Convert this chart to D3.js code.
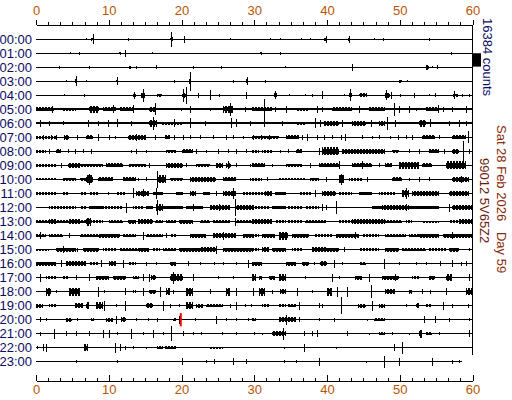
<!DOCTYPE html>
<html>
<head>
<meta charset="utf-8">
<script src="https://cdn.jsdelivr.net/npm/d3@7"></script>
<style>
  body { margin: 0; background: #fff; }
  svg { display: block; font-family: "Liberation Sans", Arial, sans-serif; }
</style>
</head>
<body>
<script>
// helicorder rows, one per hour
const hours = ["00:00", "01:00", "02:00", "03:00", "04:00", "05:00", "06:00", "07:00",
  "08:00", "09:00", "10:00", "11:00", "12:00", "13:00", "14:00", "15:00",
  "16:00", "17:00", "18:00", "19:00", "20:00", "21:00", "22:00", "23:00"];
const minuteTicks = [0, 10, 20, 30, 40, 50, 60];
const scaleCounts = 16384;
const dateLabel = "Sat 28 Feb 2026   Day 59";
const stationLabel = "99012 5V65Z2";

// background noise level per row (counts) and the minute where each row ends
const rowNoise = [0, 0, 0, 0, 400, 1100, 1100, 1000, 800, 1100, 1000, 1100, 1100, 1100, 1100, 1000,
  900, 800, 500, 500, 400, 400, 0, 0];
const rowEnd = [60, 60, 60, 60, 60, 60, 60, 60, 60, 60, 60, 60, 60, 60, 60, 60,
  60, 60, 60, 60, 60, 60, 60, 58.6];

// bursts per row: [start minute, end minute, amplitude counts]
const bursts = [
  // 00
  [[6.9,6.9,1200],[7.6,8.0,2000],[7.8,7.8,6100],[12.6,12.6,2000],[18.6,18.6,9000],[18.4,18.8,2400],[20.3,20.3,4100],[26.7,26.7,1200],
   [32.2,32.2,1200],[33.6,33.6,1200],[36.4,36.4,1200],[37.7,37.7,1200],[39.6,40.0,2000],[39.8,39.8,4100],[43.0,43.0,4100],[42.9,43.2,1600],[46.5,46.5,1200],[47.7,47.7,2000],[54.0,54.0,2000]],
  // 01
  [[4.7,4.7,1200],[5.9,5.9,2000],[11.4,11.7,2000],[12.2,12.2,4100],[16.0,16.0,1200],
   [30.8,31.0,1600],[33.6,33.6,1600],[57.1,57.1,1600]],
  // 02
  [[3.2,3.2,2000],[7.3,7.3,1600],[12.8,13.1,1600],[13.8,13.8,1600],[16.5,16.5,2400],[21.6,21.6,1600],[25.4,25.4,1600],
   [34.2,34.2,1200],[43.5,43.5,4100],[53.6,54.0,3300],[54.5,54.5,1200],[55.1,55.1,2400]],
  // 03
  [[4.1,4.1,1200],[5.5,5.5,6100],[5.4,5.7,2400],[6.9,6.9,1200],[11.0,11.3,2400],[11.1,11.1,4900],[19.0,19.0,1600],[21.1,21.1,11400],[21.0,21.3,3300],[27.1,27.1,1600],[28.9,29.2,2400],[29.0,29.0,4900],
   [31.5,31.5,1600],[49.9,50.3,1600],[51.0,51.0,1200]],
  // 04
  [[3.9,3.9,1200],[6.6,6.8,1600],[13.5,13.5,4100],[13.3,13.7,2000],[14.7,14.7,8100],[14.4,15.0,3300],[16.7,17.3,2000],[20.2,20.2,8100],[20.6,20.6,10200],[20.0,20.8,3300],[22.2,22.2,3300],[23.9,23.9,6100],[25.2,25.2,1600],[28.8,29.0,4100],
   [32.9,32.9,4900],[32.7,33.1,2400],[34.8,34.8,1200],[37.0,37.0,1200],[37.9,37.9,2000],[39.3,39.3,4900],[42.3,42.3,1200],[43.2,43.2,7300],[43.0,43.4,2400],[44.4,45.5,2400],[48.1,48.1,6100],[48.0,48.6,3300],[48.8,48.8,4100],[50.1,50.1,2000],[52.0,52.0,3300],[54.0,54.0,1200],[54.9,54.9,2400],[57.5,57.5,4900],[57.3,58.0,2000],[58.6,58.6,1600],[59.5,59.5,1600]],
  // 05
  [[0.0,2.5,2400],[2.2,2.2,4100],[3.7,5.5,1600],[7.3,8.7,4100],[8.0,8.0,4100],[9.2,11.0,2400],[10.6,10.6,4900],[11.5,13.3,2400],[13.3,13.3,4900],[15.6,16.5,3300],[16.3,16.3,7300],[19.9,19.9,1600],[21.1,21.1,4100],[23.9,23.9,1600],[25.7,27.1,4100],[26.6,26.6,8100],[28.7,28.7,3300],
   [29.7,32.5,2400],[31.3,31.3,12200],[32.9,32.9,3300],[34.3,34.3,4100],[35.7,37.5,2000],[38.6,38.6,4100],[39.3,39.3,3300],[40.7,43.5,2400],[44.4,44.4,4100],[45.8,48.0,2400],[49.2,49.2,8100],[49.9,49.9,4100],[51.3,51.3,4100],[52.2,52.2,2000],[53.6,55.4,2400],[55.2,55.2,4900],[55.9,55.9,3300],[57.2,57.2,3300],[59.1,59.1,4100]],
  // 06
  [[0.5,0.5,4100],[1.8,1.8,3300],[3.7,3.7,2400],[7.1,7.1,4100],[8.5,8.5,3300],[9.9,9.9,4100],[11.2,11.2,4900],[13.1,13.1,3300],[15.6,16.7,4100],[16.1,16.1,8100],[17.2,20.2,2000],[19.0,19.0,4900],[21.1,21.1,6100],[23.2,23.2,3300],[26.8,26.8,6100],[27.5,27.5,4900],[29.4,29.4,3300],
   [31.3,31.3,4900],[33.8,33.8,3300],[35.7,37.0,2000],[38.4,38.4,6100],[39.1,39.1,4100],[39.6,41.6,3300],[42.1,42.1,4100],[43.5,45.3,3300],[46.0,46.0,4100],[47.1,48.0,3300],[48.3,48.3,8100],[49.4,49.4,4100],[52.6,53.6,4100],[54.2,54.2,4900],[56.8,56.8,3300],[58.1,58.1,4100],[59.1,59.1,3300]],
  // 07
  [[0.0,2.8,1600],[0.9,0.9,3300],[2.1,2.1,3300],[2.8,2.8,3300],[3.9,4.6,3300],[5.7,5.7,3300],[6.9,7.8,2400],[8.5,8.5,4100],[10.1,10.1,3300],[10.8,10.8,2000],[12.6,15.1,3300],[13.8,13.8,4100],[16.3,16.3,3300],[17.7,18.4,2400],[19.0,19.0,3300],[20.2,20.2,3300],[21.1,21.1,2400],[22.5,22.5,2400],[24.3,24.3,2400],[26.1,26.1,3300],[27.1,27.1,2400],[28.4,28.4,1600],[29.8,29.8,3300],
   [29.7,33.4,2000],[30.9,30.9,3300],[32.0,32.0,3300],[34.3,36.1,2400],[36.6,36.6,3300],[37.3,37.3,4100],[38.6,38.6,3300],[39.6,39.6,3300],[40.7,40.7,2400],[41.9,41.9,3300],[42.5,42.5,4100],[44.8,44.8,2400],[46.2,46.2,2000],[47.1,47.1,2400],[48.7,48.7,2000],[49.7,49.7,3300],[50.8,50.8,2400],[51.7,51.7,3300],[53.1,54.9,2400],[55.4,55.4,2400],[57.2,59.1,2400],[59.4,59.4,7300]],
  // 08
  [[0.0,1.4,1600],[1.8,1.8,3300],[2.8,3.4,2400],[4.4,4.4,2400],[5.3,5.3,3300],[6.4,6.4,2400],[7.6,7.6,3300],[13.1,13.1,2000],[13.8,13.8,3300],[15.1,15.1,2000],[17.9,19.3,2000],[20.0,21.6,2400],[22.0,22.0,3300],[23.4,23.4,2000],[25.0,25.0,3300],[26.4,26.4,2400],[27.5,27.5,3300],[28.9,28.9,2400],[29.8,29.8,2000],
   [29.7,30.6,1600],[31.1,32.5,1600],[33.6,33.6,2000],[34.7,34.7,2400],[35.7,36.6,2400],[38.9,38.9,4100],[39.3,41.6,4900],[42.1,48.0,2800],[49.0,49.9,2000],[51.3,51.3,2400],[52.6,52.6,3300],[54.0,55.4,2400],[56.1,56.1,3300],[57.2,58.1,3300],[58.7,58.7,12200],[59.5,59.5,3300]],
  // 09
  [[0.0,2.8,1600],[3.4,3.4,3300],[4.4,6.0,3300],[6.0,9.2,2000],[9.6,11.9,2400],[12.8,15.1,2000],[15.6,15.6,3300],[17.9,20.2,3300],[20.6,20.6,2400],[22.0,23.9,2000],[24.8,25.7,3300],[26.4,26.4,4900],[26.1,26.8,3300],[27.5,27.5,2400],[29.4,29.4,2000],
   [29.7,31.5,2400],[32.5,32.5,2000],[34.3,36.6,2000],[37.7,37.7,3300],[38.9,41.6,2400],[41.6,41.6,4900],[43.5,46.2,2400],[44.8,44.8,4900],[47.1,47.1,2400],[48.0,49.0,2400],[49.9,52.6,4100],[53.1,54.5,2400],[56.3,59.1,4900],[58.6,58.6,4100]],
  // 10
  [[0.0,2.8,1200],[3.7,5.5,2000],[6.0,6.9,2000],[6.9,7.8,4900],[7.3,7.3,6500],[8.5,10.6,2400],[11.9,13.8,2400],[14.0,14.0,2000],[15.1,15.1,2400],[16.7,16.7,10600],[16.7,17.9,4900],[18.4,20.2,2000],[21.1,24.8,2800],[25.7,27.5,2400],[29.4,29.4,2000],
   [29.7,31.1,1600],[31.8,31.8,2400],[33.4,37.0,1200],[37.7,38.9,2000],[39.8,39.8,3300],[41.6,42.3,4900],[41.9,41.9,6500],[43.0,44.8,1600],[45.5,45.5,3300],[49.0,50.3,2400],[51.3,51.3,2000],[52.6,52.6,3300],[54.0,54.0,2400],[57.2,59.5,2800],[58.4,58.4,4100]],
  // 11
  [[0.0,2.8,2000],[3.7,4.6,1600],[6.0,6.9,2000],[7.3,8.7,2000],[9.9,9.9,2400],[11.0,12.4,2000],[13.3,13.3,6100],[13.8,15.6,2800],[14.7,14.7,4900],[16.1,17.4,2400],[16.5,16.5,7300],[19.3,20.2,2400],[21.1,22.0,3300],[22.9,23.9,2400],[24.8,24.8,3300],[25.7,27.5,3300],[27.1,27.1,6500],[28.4,29.8,2000],
   [29.7,31.5,2000],[31.5,32.5,3300],[32.9,34.3,2400],[36.1,38.0,2000],[38.4,38.4,4100],[39.3,41.2,3300],[41.6,43.5,2000],[44.4,46.2,2400],[47.1,49.4,2000],[50.8,50.8,7300],[50.3,51.3,4100],[51.7,55.4,3300],[56.8,59.5,2800]],
  // 12
  [[0.0,0.9,1200],[1.8,5.5,2000],[6.0,6.9,1600],[7.3,9.2,2400],[9.2,11.9,2000],[12.4,12.4,6100],[13.3,14.7,1600],[15.1,16.1,2400],[16.7,16.7,9000],[16.5,17.4,4100],[17.4,20.2,2400],[20.6,22.9,2400],[21.6,21.6,4100],[23.9,26.6,2800],[25.2,25.2,4100],[27.3,27.3,10200],[27.5,30.0,2800],
   [29.7,32.0,2000],[32.5,34.3,2400],[34.7,36.6,1600],[37.0,38.9,1600],[39.3,39.3,4100],[39.8,39.8,3300],[41.2,41.2,8100],[41.6,46.2,1200],[46.2,48.0,2400],[47.6,51.3,3300],[50.8,50.8,4100],[51.3,55.4,2400],[56.8,56.8,4900],[57.2,60.0,3300]],
  // 13
  [[0.0,1.8,2000],[1.8,2.8,3300],[2.8,6.9,2000],[4.6,6.0,3300],[6.9,7.6,4900],[7.6,9.2,1600],[10.1,11.9,2000],[12.6,13.8,2400],[14.0,16.1,2800],[16.3,17.4,2000],[17.9,19.3,2000],[19.7,21.6,2400],[22.5,23.9,2000],[24.3,26.6,2000],[27.3,27.3,4900],[27.5,29.8,2000],
   [29.7,32.5,2800],[32.9,34.3,1600],[34.7,36.6,1600],[37.0,39.8,2000],[41.6,43.5,1600],[43.5,48.0,2800],[48.0,50.3,2000],[50.8,51.7,1600],[53.1,55.4,1200],[56.8,58.1,1600],[58.1,60.0,3300]],
  // 14
  [[0.0,1.4,2000],[0.5,0.5,4100],[1.8,3.7,2000],[4.6,4.6,3300],[6.0,8.7,2000],[8.7,11.5,2400],[11.9,13.8,2000],[14.7,14.7,4900],[15.1,17.4,2000],[17.9,17.9,3300],[18.4,19.3,1600],[21.1,23.4,2400],[24.3,27.5,3300],[25.7,25.7,4900],[28.4,30.0,2400],
   [29.7,30.6,1600],[31.1,32.9,2400],[33.4,34.7,4900],[35.2,37.5,2400],[38.4,40.7,1600],[41.2,44.4,2400],[43.9,43.9,4100],[44.8,47.1,1600],[48.0,50.8,2000],[51.3,52.6,2000],[52.6,55.4,2400],[55.9,60.0,2400],[57.2,57.2,4100]],
  // 15
  [[0.0,1.8,1200],[2.8,5.5,2400],[3.7,3.7,4100],[5.7,5.7,2400],[6.4,8.7,2400],[9.2,11.0,1600],[11.5,14.2,2000],[14.2,15.6,2400],[16.1,17.0,1600],[17.4,19.3,2000],[19.7,22.5,2400],[22.5,24.8,2800],[24.8,24.8,4900],[25.7,27.5,2400],[27.5,29.8,2400],
   [29.7,30.6,1600],[31.1,32.0,3300],[32.5,34.3,2400],[35.2,36.6,1600],[38.0,39.8,3300],[39.8,41.6,2400],[42.3,42.3,3300],[44.4,47.1,1600],[48.0,49.9,2400],[50.3,53.6,2000],[54.0,56.3,1600],[56.8,58.1,2400],[59.5,59.5,1600]],
  // 16
  [[0.0,2.8,2400],[3.4,3.4,4100],[4.1,6.9,3300],[7.3,8.7,1600],[8.9,8.9,4100],[10.1,11.0,3300],[11.9,11.9,4900],[12.8,13.8,1600],[15.1,15.1,2400],[16.5,16.5,1600],[18.4,19.3,2400],[20.9,20.9,3300],[22.5,22.5,2000],[24.5,24.5,2000],[25.7,25.7,1600],[27.5,27.5,1600],[29.1,29.1,4900],
   [29.7,31.1,2400],[34.3,35.7,2400],[36.6,37.5,2400],[38.2,38.2,1600],[39.1,40.0,3300],[41.0,41.0,4900],[42.1,42.1,1600],[44.6,45.3,2000],[47.8,47.8,6100],[49.9,49.9,1600],[52.2,52.2,1600],[53.6,53.6,2000],[55.6,55.6,3300],[57.2,57.2,4100],[58.4,58.4,2400],[59.1,59.1,3300]],
  // 17
  [[0.5,0.5,4900],[1.4,2.8,1600],[3.7,4.6,1600],[5.5,5.5,3300],[7.3,7.3,4100],[8.3,10.1,2400],[10.6,12.4,2400],[13.3,14.2,2000],[14.7,14.7,4100],[15.6,15.6,4900],[15.8,16.5,3300],[18.4,20.2,4100],[18.8,18.8,7300],[21.6,21.6,4100],[25.0,25.0,2000],[27.1,27.1,2000],[29.8,29.8,4100],
   [29.7,30.2,4100],[30.6,31.1,2400],[32.0,32.9,2400],[33.4,34.3,4100],[37.0,37.0,1600],[40.7,40.7,4900],[41.6,41.6,2000],[43.9,44.8,2400],[45.8,45.8,4900],[47.6,49.9,2400],[49.4,49.4,4100],[51.7,52.6,1600],[54.0,54.9,2400],[56.3,57.2,4100],[59.5,59.5,4100]],
  // 18
  [[1.4,2.1,4900],[2.8,2.8,1600],[4.6,6.0,4900],[5.5,5.5,4900],[8.5,8.5,6100],[9.4,9.4,2000],[12.2,12.2,4100],[13.3,13.8,1600],[14.7,14.7,4900],[15.6,16.5,2400],[17.0,17.0,6100],[17.9,18.4,4100],[18.8,18.8,2400],[20.6,21.6,4900],[23.9,23.9,3300],[26.1,26.6,4900],[27.5,27.5,4900],[29.8,29.8,4900],
   [30.6,31.5,4900],[32.5,32.5,2400],[33.6,34.3,3300],[35.9,35.9,4900],[38.0,38.0,1600],[40.0,40.7,4900],[41.4,41.4,6100],[42.8,42.8,6100],[46.0,46.0,8100],[48.0,49.4,3300],[51.3,51.7,2400],[53.1,53.1,3300],[54.2,54.2,2400],[56.3,56.3,4100],[59.1,60.0,4100]],
  // 19
  [[0.0,0.9,2400],[1.8,2.8,1600],[5.3,6.4,3300],[6.9,7.3,4100],[8.3,9.2,4100],[9.4,9.4,6100],[11.0,11.0,2000],[12.2,12.2,6100],[15.1,16.1,3300],[17.4,17.4,6100],[18.4,18.4,2400],[19.7,19.7,1600],[20.6,21.6,4100],[22.0,22.9,2400],[23.4,25.7,2000],[26.6,26.6,2400],[27.5,27.5,4900],[28.7,28.7,2000],[29.6,29.6,2000],
   [31.1,32.0,1600],[33.4,34.3,1600],[34.7,35.7,2000],[36.1,36.1,4900],[38.9,38.9,3300],[39.3,39.3,2400],[41.9,41.9,10200],[44.2,45.3,2400],[46.2,46.2,6100],[47.1,48.0,2400],[50.8,50.8,1600],[52.2,52.6,3300],[53.6,54.5,1600],[55.9,55.9,4900],[57.2,57.2,2400],[59.4,59.4,2400]],
  // 20
  [[0.5,0.5,3300],[1.4,1.4,1600],[4.1,5.0,2400],[5.7,5.7,1600],[7.6,8.0,1600],[9.6,10.6,2400],[11.0,11.0,4900],[11.7,12.4,3300],[13.8,13.8,1600],[15.4,15.4,1600],[16.7,16.7,2400],[18.8,19.3,1600],[19.7,19.7,4900],[21.8,21.8,1600],[24.8,24.8,4900],[26.1,26.1,1600],[27.5,27.5,1600],[29.1,29.1,1600],[29.8,29.8,1600],
   [29.7,30.2,1600],[33.4,35.7,3300],[34.3,34.3,6100],[36.1,36.1,3300],[38.9,38.9,1600],[41.0,41.0,2400],[45.5,45.5,1200],[46.4,48.0,2000],[53.3,53.3,4100],[54.9,54.9,4100],[56.8,56.8,2400],[59.5,59.5,2000]],
  // 21
  [[0.5,0.5,2400],[2.5,2.5,6100],[4.1,4.1,3300],[5.5,5.5,3300],[7.3,7.3,3300],[9.2,9.2,4900],[10.1,10.1,4900],[11.2,11.2,1600],[13.1,13.1,6100],[14.7,14.7,1600],[16.1,16.1,4900],[17.4,17.4,1600],[18.6,18.6,9000],[20.2,20.2,3300],[21.6,21.6,1600],[22.7,22.7,1600],[25.5,25.5,1600],[27.5,27.5,1600],[30.0,30.0,1600],
   [31.1,31.1,1200],[32.5,34.3,3300],[34.0,34.0,7300],[36.8,36.8,3300],[38.0,38.0,3300],[38.6,38.6,4100],[42.8,42.8,3300],[45.8,45.8,1200],[47.1,48.0,1600],[49.0,49.0,1600],[51.3,51.3,1200],[52.6,53.1,4900],[53.6,54.5,2000],[55.4,55.4,2000],[59.5,59.5,4100]],
  // 22
  [[0.2,0.2,1600],[0.9,0.9,4100],[1.4,1.4,4900],[6.6,7.1,4100],[10.8,10.8,6100],[11.5,11.5,4100],[12.2,12.2,2400],[13.3,13.3,1600],[15.1,15.1,1200],[16.7,17.4,1600],[17.7,19.3,2000],[23.9,25.7,1200],
   [34.1,34.1,1200],[36.8,36.8,4900],[41.2,41.2,1200],[49.2,49.2,4100],[50.3,50.3,7300]],
  // 23
  [[5.5,5.5,1600],[11.2,11.2,2000],[20.0,20.0,4100],[23.4,23.4,1600],[24.5,24.5,3300],[27.1,27.1,4100],[28.8,28.8,3300],
   [34.1,34.1,1600],[35.7,35.7,1600],[38.9,38.9,4900],[45.3,45.3,1200],[47.8,47.8,7300],[49.9,49.9,4900],[54.5,54.5,4900],[57.2,57.2,2400],[58.1,58.1,1600]]
];

// highlighted marker: [row, minute, amplitude counts]
const redMarks = [[20, 19.9, 8100]];

var width = 512;
var height = 400;

var tickColor = "#b85400";
var labelColor = "#0a0a66";

var svg = d3.select("body").append("svg")
  .attr("width", width)
  .attr("height", height);

// vertical comb used to draw noisy stretches of trace
svg.append("defs")
  .append("pattern")
  .attr("id", "comb")
  .attr("patternUnits", "userSpaceOnUse")
  .attr("width", 3)
  .attr("height", 400)
  .append("rect")
  .attr("width", 2)
  .attr("height", 400)
  .attr("fill", "#000");

var x = d3.scaleLinear().domain([0, 60]).range([36, 472.5]);
var y = d3.scalePoint().domain(hours).range([39.2, 361.8]);
var amp = d3.scaleLinear().domain([0, scaleCounts]).range([0, 13.4]);

var minorTicks = d3.range(0, 60.001, 10 / 6);

function styleAxis(g) {
  g.attr("font-family", null).attr("font-size", null);
  g.selectAll("path, line").attr("stroke", "#000").attr("shape-rendering", "crispEdges");
  g.selectAll("text").attr("fill", tickColor).style("font-size", "13px");
}

// top axis
svg.append("g").attr("transform", "translate(0,24.5)")
  .call(d3.axisTop(x).tickValues(minorTicks).tickSize(2.5).tickSizeOuter(0).tickFormat(""))
  .call(styleAxis);
svg.append("g").attr("transform", "translate(0,24.5)")
  .call(d3.axisTop(x).tickValues(minuteTicks).tickSize(5).tickSizeOuter(0).tickPadding(4.5))
  .call(styleAxis);

// bottom axis, ticks point up
svg.append("g").attr("transform", "translate(0,380.5)")
  .call(d3.axisBottom(x).tickValues(minorTicks).tickSize(-3).tickSizeOuter(0).tickFormat(""))
  .call(styleAxis);
svg.append("g").attr("transform", "translate(0,380.5)")
  .call(d3.axisBottom(x).tickValues(minuteTicks).tickSize(-6).tickSizeOuter(0).tickPadding(4))
  .call(styleAxis);

// right frame line
svg.append("line")
  .attr("x1", x(60)).attr("x2", x(60))
  .attr("y1", 25).attr("y2", 355)
  .attr("stroke", "#000")
  .attr("shape-rendering", "crispEdges");

// hour labels
svg.append("g").selectAll("text")
  .data(hours)
  .enter()
  .append("text")
  .attr("x", 32)
  .attr("y", function(d) { return y(d) + 4.5; })
  .attr("text-anchor", "end")
  .attr("fill", labelColor)
  .style("font-size", "13px")
  .text(function(d) { return d; });

// traces
var rows = svg.append("g").selectAll("g")
  .data(hours)
  .enter()
  .append("g")
  .attr("transform", function(d) { return "translate(0," + y(d) + ")"; })
  .attr("shape-rendering", "crispEdges");

function noiseHalf(i) {
  return Math.max(0.7, amp(rowNoise[i]));
}

rows.append("rect")
  .attr("x", x(0))
  .attr("width", function(d, i) { return x(rowEnd[i]) - x(0); })
  .attr("y", function(d, i) { return -noiseHalf(i); })
  .attr("height", function(d, i) { return 2 * noiseHalf(i); })
  .attr("fill", "#000");

function rowBursts(d, i) {
  return bursts[i];
}

// noisy stretches: comb envelope with a solid core
var stretches = rows.selectAll("g.stretch")
  .data(function(d, i) { return rowBursts(d, i).filter(function(b) { return b[1] > b[0]; }); })
  .enter()
  .append("g")
  .attr("class", "stretch");

stretches.append("rect")
  .attr("x", function(d) { return x(d[0]); })
  .attr("width", function(d) { return x(d[1]) - x(d[0]); })
  .attr("y", function(d) { return -amp(d[2]); })
  .attr("height", function(d) { return 2 * amp(d[2]); })
  .attr("fill", "url(#comb)");

stretches.append("rect")
  .attr("x", function(d) { return x(d[0]); })
  .attr("width", function(d) { return x(d[1]) - x(d[0]); })
  .attr("y", function(d) { return -0.6 * amp(d[2]); })
  .attr("height", function(d) { return 1.2 * amp(d[2]); })
  .attr("fill", "#000");

// single spikes
rows.selectAll("rect.spike")
  .data(function(d, i) { return rowBursts(d, i).filter(function(b) { return b[1] === b[0]; }); })
  .enter()
  .append("rect")
  .attr("class", "spike")
  .attr("x", function(d) { return Math.round(x(d[0])) - 0.5; })
  .attr("width", 1.5)
  .attr("y", function(d) { return -amp(d[2]); })
  .attr("height", function(d) { return 2 * amp(d[2]); })
  .attr("fill", "#000");

svg.append("g").selectAll("rect")
  .data(redMarks)
  .enter()
  .append("rect")
  .attr("x", function(d) { return x(d[1]) - 1; })
  .attr("width", 2)
  .attr("y", function(d) { return y(hours[d[0]]) - amp(d[2]); })
  .attr("height", function(d) { return 2 * amp(d[2]); })
  .attr("fill", "#ff0000");

// scale bar: full scale spans one row spacing
svg.append("rect")
  .attr("x", 473)
  .attr("width", 8)
  .attr("y", y(hours[1]))
  .attr("height", amp(scaleCounts))
  .attr("fill", "#000");

svg.append("text")
  .attr("transform", "translate(483,18) rotate(90)")
  .attr("fill", labelColor)
  .style("font-size", "13px")
  .text(scaleCounts + " counts");

svg.append("text")
  .attr("transform", "translate(496.5,125) rotate(90)")
  .attr("fill", "#8b2a0a")
  .style("font-size", "13px")
  .style("white-space", "pre")
  .text(dateLabel);

svg.append("text")
  .attr("transform", "translate(479.5,158) rotate(90)")
  .attr("fill", "#6b1a0a")
  .style("font-size", "13px")
  .text(stationLabel);
</script>
</body>
</html>
